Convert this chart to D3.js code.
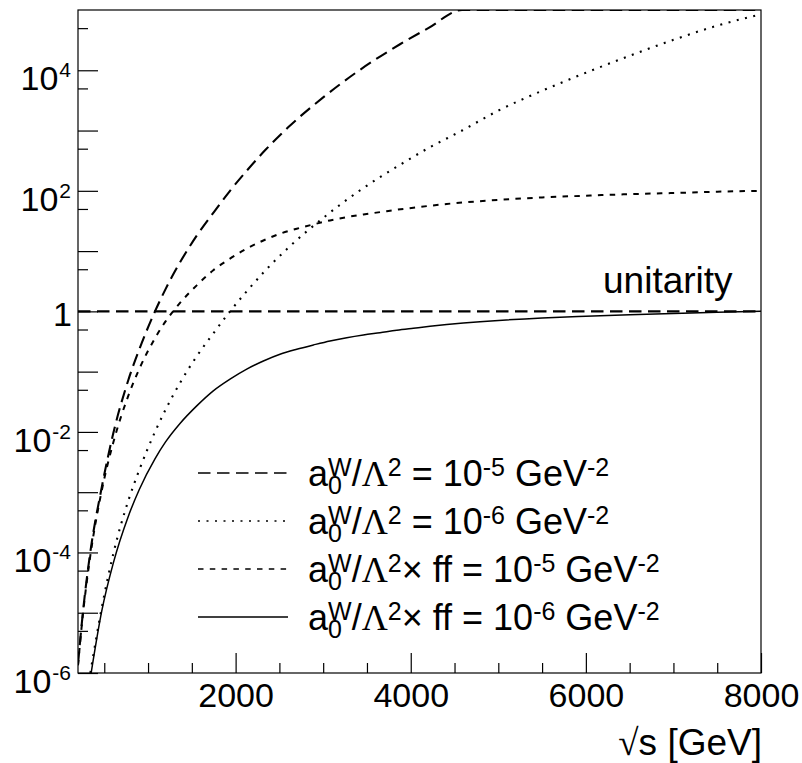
<!DOCTYPE html>
<html><head><meta charset="utf-8">
<script src="https://cdn.jsdelivr.net/npm/d3@7"></script>
<style>body{margin:0;background:#fff} svg{display:block}</style>
</head><body>
<svg id="c" width="802" height="763"></svg>
<script>
// ---- data ----
const sqrtsA = [200, 254, 337, 471, 603, 774, 900, 1079, 1200, 1365, 1556, 1745, 1936, 2127, 2336, 2600, 3000, 3400, 3877, 4200, 4586, 5000, 6000, 7000, 8000];
const valA   = [1.4e-6, 9.5e-6, 9.3e-5, 1.2e-3, 9.5e-3, 7.2e-2, 0.234, 1, 2.34, 6.5, 18, 43, 100, 215, 470, 1130, 3550, 9700, 2.7e4, 5.0e4, 1e5, 1e5, 1e5, 1e5, 1e5];
const sqrtsB = [341, 471, 603, 774, 900, 1079, 1200, 1365, 1556, 1745, 1936, 2127, 2336, 2600, 3000, 3400, 3877, 4200, 4586, 5000, 5500, 6000, 6500, 7000, 7500, 8000];
const valB   = [1e-6, 1.2e-5, 9.5e-5, 7.2e-4, 2.34e-3, 1e-2, 2.34e-2, 6.5e-2, 0.18, 0.43, 1.0, 2.15, 4.7, 11.3, 35.5, 97, 270, 510, 1000, 2140, 4570, 9100, 1.74e4, 3.2e4, 5.5e4, 8.5e4];
const sqrtsC = [200, 254, 337, 471, 603, 774, 900, 1079, 1200, 1365, 1556, 1745, 1936, 2127, 2317, 2507, 2698, 2888, 3078, 3269, 3459, 3649, 3840, 4030, 4220, 4411, 4601, 4791, 5500, 6000, 6500, 7000, 7500, 8000];
const valC   = [1.34e-6, 8.8e-6, 8.1e-5, 1.06e-3, 6.65e-3, 3.96e-2, 0.111, 0.358, 0.682, 1.38, 2.7, 4.8, 7.5, 11, 15, 19.4, 23.5, 27.7, 32.3, 36.6, 40.6, 44.3, 48.5, 52.4, 56.5, 60.5, 64.1, 67.3, 77.6, 83, 88, 92, 96.6, 100];
const sqrtsD = [350, 471, 603, 774, 900, 1079, 1200, 1365, 1556, 1745, 1936, 2127, 2317, 2507, 2698, 2888, 3078, 3269, 3459, 3649, 3840, 4030, 4220, 4411, 4601, 4791, 5500, 6000, 6500, 7000, 7500, 8000];
const valD   = [1e-6, 1.06e-5, 6.65e-5, 3.96e-4, 1.11e-3, 3.58e-3, 6.82e-3, 1.38e-2, 2.7e-2, 4.8e-2, 7.5e-2, 0.11, 0.15, 0.194, 0.235, 0.277, 0.323, 0.366, 0.406, 0.443, 0.485, 0.524, 0.565, 0.605, 0.641, 0.673, 0.776, 0.83, 0.88, 0.92, 0.966, 1.0];
const unitarity = 1;
const xMajor = [2000, 4000, 6000, 8000];
const xMinor = [500, 1000, 1500, 2500, 3000, 3500, 4500, 5000, 5500, 6500, 7000, 7500];
const yMajor = [1e-6, 1e-5, 1e-4, 1e-3, 1e-2, 1e-1, 1, 10, 100, 1e3, 1e4];
const yMinor = [5e-6, 5e-5, 5e-4, 5e-3, 5e-2, 0.5, 5, 50, 500, 5e3, 5e4];
const yLabels = [[1e-6, "-6"], [1e-4, "-4"], [1e-2, "-2"], [1, null], [100, "2"], [1e4, "4"]];
const legendExp = ["-5", "-6", "-5", "-6"];
const legendFF = [false, false, true, true];

// ---- layout ----
const X0 = 78, X1 = 761, Y0 = 10, Y1 = 673;
const sans = "'Liberation Sans', Arial, Helvetica, sans-serif";
const serif = "'Liberation Serif', 'Times New Roman', serif";
const svg = d3.select("#c");
const x = d3.scaleLinear().domain([200, 8000]).range([X0, X1]);
const y = d3.scaleLog().domain([1e-6, 1e5]).range([Y1, Y0]).clamp(true);

const styles = [
  {dash: "12.5 6.5", w: 2.1},
  {dash: "2 6.5", w: 2.1},
  {dash: "5.5 6.3", w: 2.0},
  {dash: null, w: 1.5}
];
const series = [[sqrtsA, valA], [sqrtsB, valB], [sqrtsC, valC], [sqrtsD, valD]];

svg.append("defs").append("clipPath").attr("id", "clip")
  .append("rect").attr("x", X0).attr("y", Y0).attr("width", X1 - X0).attr("height", Y1 - Y0);

const line = d3.line().x(d => x(d[0])).y(d => y(d[1])).curve(d3.curveMonotoneX);
const plot = svg.append("g").attr("clip-path", "url(#clip)");
series.forEach((s, i) => {
  const pts = s[0].map((v, k) => [v, s[1][k]]);
  plot.append("path").attr("d", line(pts)).attr("fill", "none")
    .attr("stroke", "#000").attr("stroke-width", styles[i].w)
    .attr("stroke-dasharray", styles[i].dash);
});
plot.append("line").attr("x1", X0).attr("x2", X1).attr("y1", y(unitarity)).attr("y2", y(unitarity))
  .attr("stroke", "#000").attr("stroke-width", 2.1).attr("stroke-dasharray", "12.5 6.5");

// frame
svg.append("rect").attr("x", X0).attr("y", Y0).attr("width", X1 - X0).attr("height", Y1 - Y0)
  .attr("fill", "none").attr("stroke", "#000").attr("stroke-width", 1.2);

// axes (ticks)
function styleAxis(g) {
  g.select(".domain").remove();
  g.selectAll(".tick line").attr("stroke", "#000").attr("stroke-width", 1.2);
}
svg.append("g").attr("transform", `translate(${X0},0)`)
  .call(d3.axisLeft(y).tickValues(yMajor).tickSizeInner(-20).tickFormat(""))
  .call(styleAxis);
svg.append("g").attr("transform", `translate(${X0},0)`)
  .call(d3.axisLeft(y).tickValues(yMinor).tickSizeInner(-10).tickFormat(""))
  .call(styleAxis);
svg.append("g").attr("transform", `translate(0,${Y1})`)
  .call(d3.axisBottom(x).tickValues(xMinor).tickSizeInner(-10).tickFormat(""))
  .call(styleAxis);
const xa = svg.append("g").attr("transform", `translate(0,${Y1})`)
  .call(d3.axisBottom(x).tickValues(xMajor).tickSizeInner(-20).tickPadding(0).tickFormat(d3.format("d")))
  .call(styleAxis);
xa.selectAll(".tick text").attr("y", 34).attr("dy", null)
  .style("font-family", sans).style("font-size", "34px").attr("fill", "#000");

// rich text: one <text> element made of positioned tspans
function rich(parent, px, py, parts, anchor) {
  const tmp = parent.append("text").style("visibility", "hidden");
  const meas = p => {
    tmp.style("font-family", p.font || sans).style("font-size", p.size + "px").text(p.t);
    return tmp.node().getComputedTextLength();
  };
  let cx = 0;
  const placed = [];
  parts.forEach(p => {
    if (p.stack) {
      let w = 0;
      p.stack.forEach(q => { placed.push([q, cx + (q.dx || 0)]); w = Math.max(w, meas(q) + (q.dx || 0)); });
      cx += w;
    } else {
      placed.push([p, cx + (p.dx || 0)]);
      cx += meas(p) + (p.dx || 0);
    }
  });
  tmp.remove();
  const sx = anchor === "end" ? px - cx : px;
  const t = parent.append("text").attr("fill", "#000");
  placed.forEach(([p, ox]) => {
    t.append("tspan").attr("x", sx + ox).attr("y", py + (p.dy || 0))
      .style("font-family", p.font || sans).style("font-size", p.size + "px").text(p.t);
  });
  return t;
}

// y labels
const FS = 34;
yLabels.forEach(([v, e]) => {
  if (e === null) {
    rich(svg, 72, y(v) + 15, [{t: "1", size: FS}], "end");
  } else {
    rich(svg, 71, y(v) + 20, [{t: "10", size: FS}, {t: e, size: 21, dy: -13, dx: 1}], "end");
  }
});

// axis title
rich(svg, 762, 755, [{t: "\u221A", size: 37, font: serif}, {t: "s [GeV]", size: 37}], "end");

// unitarity label
rich(svg, 603, 293, [{t: "unitarity", size: 37}], "start");

// legend
const LFS = 36, LS = 25;
const L0 = 473, LD = 48;
for (let i = 0; i < 4; i++) {
  const ly = L0 + i * LD;
  svg.append("line").attr("x1", 198).attr("x2", 288).attr("y1", ly).attr("y2", ly)
    .attr("stroke", "#000").attr("stroke-width", i === 3 ? 1.3 : 1.4)
    .attr("stroke-dasharray", styles[i].dash);
  const parts = [
    {t: "a", size: LFS},
    {stack: [{t: "0", size: LS, dy: 8}, {t: "W", size: LS, dy: -10.5}]},
    {t: "/", size: LFS},
    {t: "\u039B", size: LFS, font: serif},
    {t: "2", size: LS, dy: -10.5}
  ];
  if (legendFF[i]) parts.push({t: "\u00D7\u00A0ff\u00A0=\u00A010", size: LFS});
  else parts.push({t: "\u00A0=\u00A010", size: LFS});
  parts.push({t: legendExp[i], size: LS, dy: -10.5});
  parts.push({t: "\u00A0GeV", size: LFS});
  parts.push({t: "-2", size: LS, dy: -10.5});
  rich(svg, 308, ly + 13, parts, "start");
}
</script>
</body></html>
